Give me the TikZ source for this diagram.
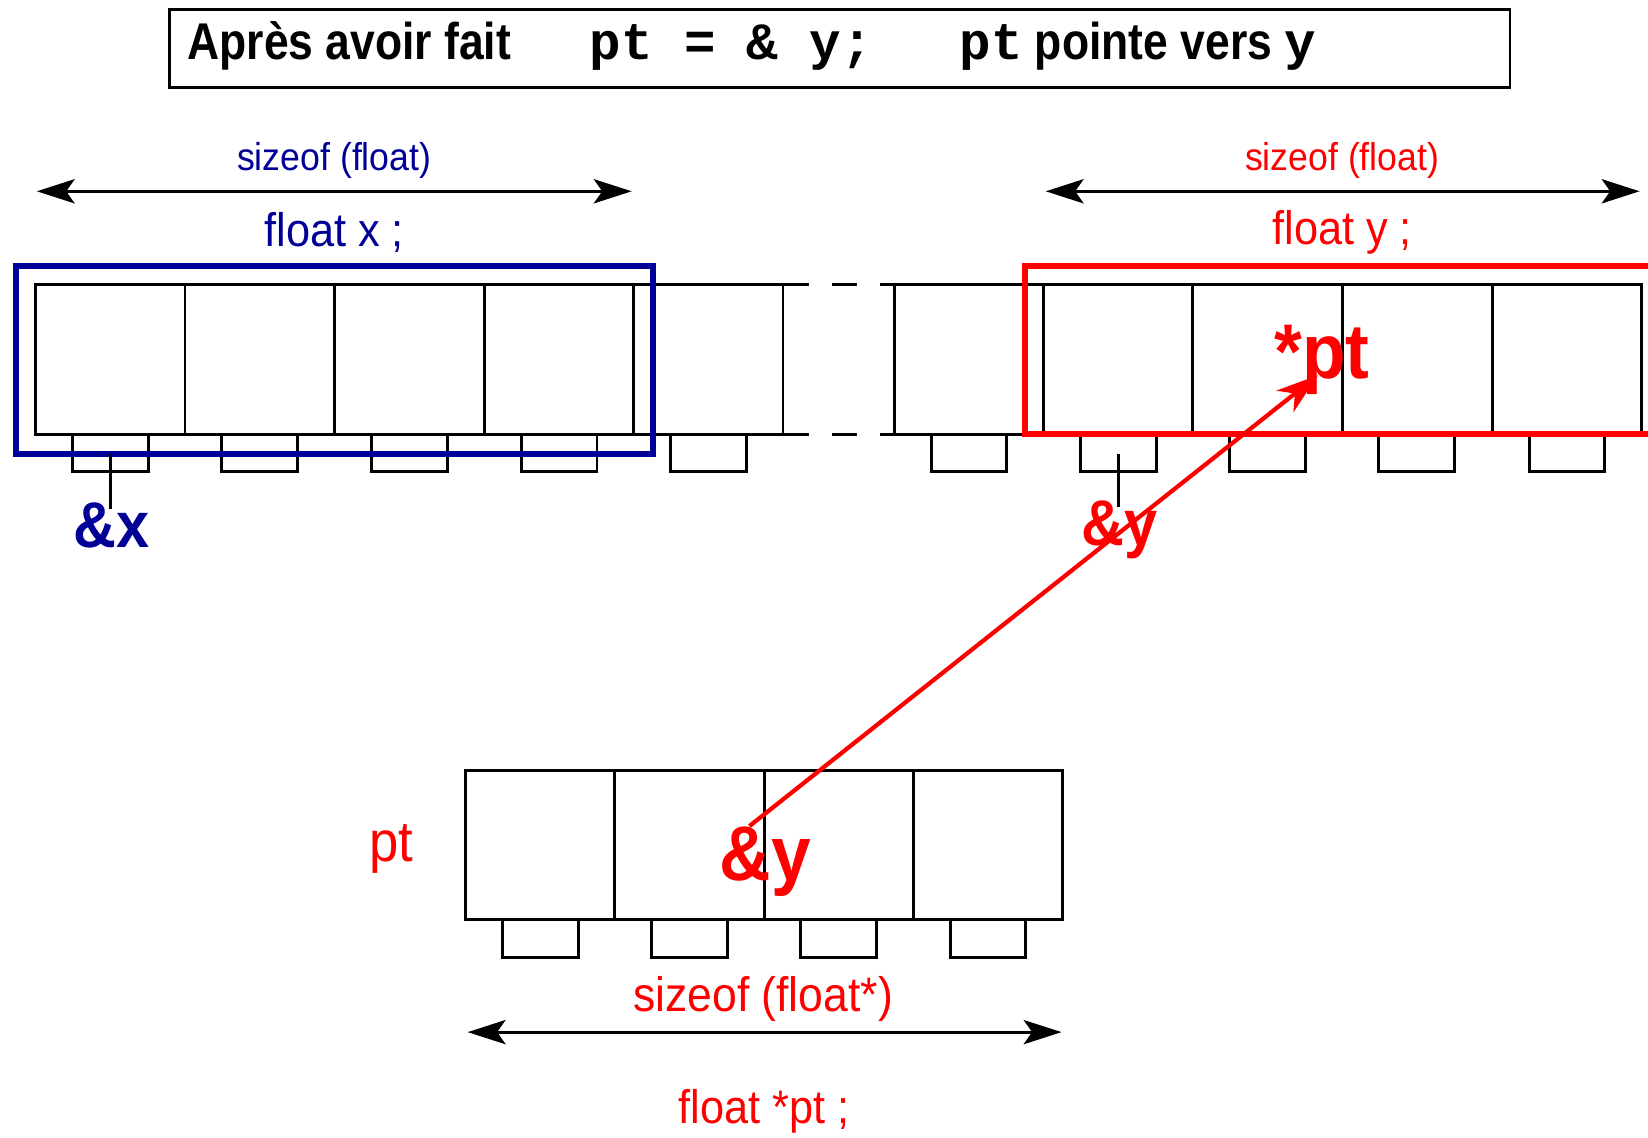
\documentclass[tikz,border=0pt]{standalone}
\usepackage{fontspec}
\setmainfont{Liberation Sans}[FakeStretch=0.92]
\newfontfamily\titlefont{Liberation Sans}[FakeStretch=0.86]
\newfontfamily\codefont{Liberation Mono}
\usetikzlibrary{arrows.meta}
\definecolor{navyblue}{RGB}{0,0,150}
\definecolor{ptred}{RGB}{255,0,0}
\begin{document}
\begin{tikzpicture}[x=0.02cm,y=-0.02cm,
  cellline/.style={line width=1.6pt, line join=miter, line cap=rect},
  dimarrow/.style={line width=1.7pt, {Stealth[length=0.72cm,width=0.46cm,inset=0.16cm]}-{Stealth[length=0.72cm,width=0.46cm,inset=0.16cm]}},
  selbox/.style={line width=3.2pt},
  ptrarrow/.style={draw=ptred, line width=2.3pt, -{Stealth[length=0.8cm,width=0.52cm,inset=0.24cm]}},
  txt/.style={inner sep=0pt, font=\fontsize{#1}{#1}\selectfont},
  btxt/.style={inner sep=0pt, font=\fontsize{#1}{#1}\selectfont\bfseries}]
\useasboundingbox (0,0) rectangle (1568,1082);
\clip (0,0) rectangle (1568,1082);

% title
\node[draw, line width=1.3pt, minimum width=25.52cm, minimum height=1.48cm, anchor=north west, inner sep=0pt] (titlebox) at (160,8) {};
\node[anchor=base west, inner sep=0pt] (title) at (178,57)
  {\titlefont\fontsize{28}{30}\selectfont\bfseries Après avoir fait\hspace{42.5pt}{\codefont\fontsize{28.4}{30}\selectfont pt = \& y;}\hspace{47pt}{\codefont\fontsize{28.4}{30}\selectfont pt} pointe vers {\codefont\fontsize{28.4}{30}\selectfont y}};

% ---- top row, left part
\foreach \c in {105,247,389.5,532,674}
  \draw[cellline] (\c-36,413) rectangle (\c+36,449);
\draw[cellline] (768,271) -- (34,271) -- (34,413) -- (768,413);
\foreach \x in {176,318,461,603,745}
  \draw[cellline] (\x,271) -- (\x,413);
\draw[cellline, line cap=butt] (792,271) -- (815,271);
\draw[cellline, line cap=butt] (792,413) -- (815,413);
% ---- top row, right part
\foreach \c in {922,1064,1206,1348,1491}
  \draw[cellline] (\c-36,413) rectangle (\c+36,449);
\draw[cellline] (839,271) -- (1562,271) -- (1562,413) -- (839,413);
\foreach \x in {851,993,1135,1277,1420}
  \draw[cellline] (\x,271) -- (\x,413);

% selection boxes
\draw[selbox, draw=navyblue] (15,253) rectangle (621,432);
\draw[selbox, draw=ptred] (975,253) rectangle (1600,413);

% dimension arrows top
\coordinate (xl) at (35,182);
\coordinate (xr) at (601,182);
\draw[dimarrow] (xl) -- (xr);
\node[txt=21, text=navyblue] (xsize) at (318,153) {sizeof (float)};
\node[txt=25.5, text=navyblue] (xdecl) at (318,221) {float x ;};

\coordinate (yl) at (995,182);
\coordinate (yr) at (1560,182);
\draw[dimarrow] (yl) -- (yr);
\node[txt=21, text=ptred] (ysize) at (1277,153) {sizeof (float)};
\node[txt=25.5, text=ptred] (ydecl) at (1277,221) {float y ;};

% address labels
\node[btxt=35, text=navyblue] (ax) at (106,500) {\&x};
\coordinate (axpin) at (105,432);
\draw[cellline, line cap=butt] (axpin) -- ([yshift=-0.12cm]ax.north -| axpin);

\node[btxt=35, text=ptred] (ay) at (1065,504) {\&y};
\coordinate (aypin) at (1064,432);
\draw[cellline, line cap=butt] (aypin) -- ([yshift=-0.12cm]ay.north -| aypin);

% ---- bottom row (pt)
\foreach \c in {514,656,798,940}
  \draw[cellline] (\c-36,875) rectangle (\c+36,911);
\draw[cellline] (443,733) rectangle (1011,875);
\foreach \x in {585,727,869}
  \draw[cellline] (\x,733) -- (\x,875);

\node[txt=31, text=ptred] (ptname) at (372,808) {pt};
\node[btxt=42, text=ptred] (ptval) at (728,820) {\&y};

\coordinate (pl) at (445,982);
\coordinate (pr) at (1010,982);
\draw[dimarrow] (pl) -- (pr);
\node[txt=26.2, text=ptred] (ptsize) at (726,950) {sizeof (float*)};
\node[txt=25.5, text=ptred] (ptdecl) at (727,1057) {float *pt ;};

% target label and pointer arrow
\node[btxt=42, text=ptred] (star) at (1258,342) {*pt};
\coordinate (ptsrc) at (713,786);
\coordinate (ptdst) at (1254,357);
\draw[ptrarrow] (ptsrc) -- (ptdst);
\end{tikzpicture}
\end{document}
